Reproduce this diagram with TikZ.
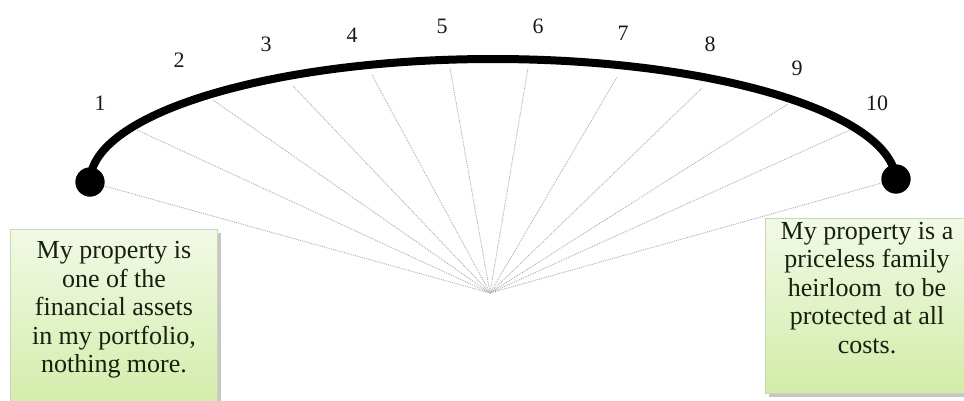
\documentclass[tikz,border=0pt]{standalone}
\usepackage{fontspec}
\setmainfont{Liberation Serif}
\newfontfamily\tnr{Liberation Serif}
\usetikzlibrary{shadows}
\definecolor{boxtop}{HTML}{F2F9E6}
\definecolor{boxbot}{HTML}{D2ECA8}
\definecolor{boxline}{HTML}{C9D8B4}
\definecolor{txt}{HTML}{16200F}
\tikzset{
  fan/.style={densely dotted, gray!65, line width=0.9pt},
  arcline/.style={line width=8pt, black},
  enddot/.style={circle, fill=black, minimum size=29pt, inner sep=0pt},
  num/.style={font=\tnr\fontsize{22}{24}\selectfont, text=black!90},
  greenbox/.style={draw=boxline, line width=0.8pt, top color=boxtop, bottom color=boxbot,
    drop shadow={shadow xshift=4pt, shadow yshift=-4pt, opacity=0.45, fill=gray}},
  boxtext/.style={align=center, font=\tnr\fontsize{26}{28.5}\selectfont, text=txt}
}
\begin{document}
\begin{tikzpicture}[x=1pt,y=-1pt]
\useasboundingbox (0,0) rectangle (964,400);
% boxes
\path[greenbox] (10,229) rectangle (217,412);
\path[greenbox] (765,218) rectangle (975,393);
\node[boxtext] (ltext) at (114,310) {My property is\\one of the\\financial assets\\in my portfolio,\\nothing more.};
\node[boxtext] (rtext) at (867,288) {My property is a\\priceless family\\heirloom\ \ to be\\protected at all\\costs.};
% fan
\coordinate (apex) at (490,293);
\node[enddot] (ldot) at (90,182) {};
\node[enddot] (rdot) at (896,179) {};
\coordinate (e1) at (137,130);
\coordinate (e2) at (213,100);
\coordinate (e3) at (293,86);
\coordinate (e4) at (372,75);
\coordinate (e5) at (450,68);
\coordinate (e6) at (528,68);
\coordinate (e7) at (617,77);
\coordinate (e8) at (702,88);
\coordinate (e9) at (788,104);
\coordinate (e10) at (852,129);
\draw[fan] (ldot) -- (apex);
\draw[fan] (rdot) -- (apex);
\foreach \i in {1,...,10} { \draw[fan] (apex) -- (e\i); }
% arc
\draw[arcline] (ldot.center) arc[start angle=180, end angle=0, x radius=403pt, y radius=123pt];
\node[enddot] at (ldot) {};
\node[enddot] at (rdot) {};
% numbers
\node[num] (n1) at (100,103) {1};
\node[num] (n2) at (179,60) {2};
\node[num] (n3) at (266,44) {3};
\node[num] (n4) at (352,35) {4};
\node[num] (n5) at (442,26) {5};
\node[num] (n6) at (538,26) {6};
\node[num] (n7) at (623,33) {7};
\node[num] (n8) at (710,44) {8};
\node[num] (n9) at (797,68) {9};
\node[num] (n10) at (877,103) {10};
\end{tikzpicture}
\end{document}
